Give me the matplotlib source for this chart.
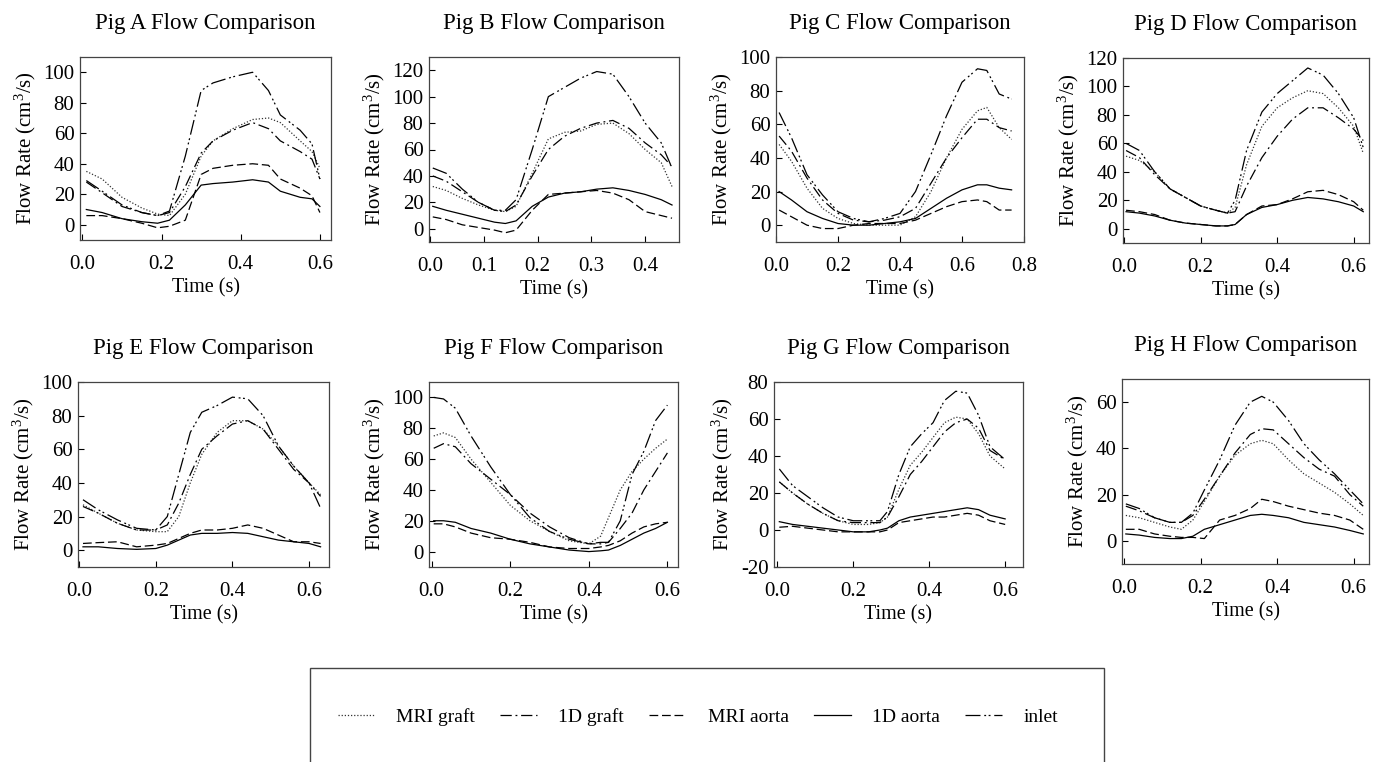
import matplotlib
matplotlib.use("Agg")
import matplotlib.pyplot as plt
from matplotlib.lines import Line2D
from matplotlib.patches import Rectangle
from matplotlib.ticker import FormatStrFormatter

plt.rcParams['font.family'] = ['Liberation Serif', 'DejaVu Serif']
plt.rcParams['mathtext.fontset'] = 'custom'
plt.rcParams['mathtext.rm'] = 'Liberation Serif'
plt.rcParams['mathtext.it'] = 'Liberation Serif:italic'
plt.rcParams['axes.unicode_minus'] = False

# ---- data (time in s, flow in cm^3/s) ----
t_A = [0.01, 0.05, 0.1, 0.15, 0.19, 0.22, 0.26, 0.3, 0.33, 0.38, 0.43, 0.47, 0.5, 0.55, 0.58, 0.6]
mri_graft_A = [35, 30, 18, 11, 7, 6, 20, 45, 55, 63, 69, 70, 67, 55, 48, 37]
oned_graft_A = [28, 21, 12, 8, 6, 8, 25, 47, 55, 62, 67, 63, 55, 48, 43, 30]
mri_aorta_A = [6, 6, 4, 1, -2, -1, 3, 33, 37, 39, 40, 39, 30, 24, 19, 8]
oned_aorta_A = [10, 8, 4, 2, 1, 3, 13, 26, 27, 28, 29.5, 28, 22, 18, 17, 12]
inlet_A = [29, 22, 13, 8, 6, 9, 45, 88, 93, 97, 100, 88, 72, 62, 53, 30]

t_B = [0.005, 0.03, 0.06, 0.09, 0.12, 0.14, 0.16, 0.19, 0.22, 0.25, 0.28, 0.31, 0.34, 0.37, 0.4, 0.43, 0.45]
mri_graft_B = [32, 29, 23, 18, 14, 13, 17, 42, 68, 73, 74, 79, 80, 72, 60, 50, 32]
oned_graft_B = [40, 36, 28, 20, 14, 13, 18, 40, 60, 70, 76, 80, 82, 76, 65, 56, 47]
mri_aorta_B = [9, 7, 3, 1, -1, -3, -1, 14, 26, 27, 28, 29, 27, 22, 13, 10, 8]
oned_aorta_B = [17, 14, 11, 8, 5, 4, 6, 17, 24, 27, 28, 30, 31, 29, 26, 22, 18]
inlet_B = [46, 42, 30, 20, 14, 14, 22, 60, 100, 107, 114, 119, 117, 100, 80, 65, 46]

t_C = [0.01, 0.05, 0.1, 0.15, 0.2, 0.25, 0.3, 0.35, 0.4, 0.45, 0.5, 0.55, 0.6, 0.65, 0.68, 0.72, 0.76]
mri_graft_C = [48, 38, 22, 10, 4, 1, 0, 0, 0, 5, 20, 40, 57, 68, 70, 58, 51]
oned_graft_C = [53, 44, 28, 15, 7, 3, 2, 3, 5, 10, 25, 40, 52, 63, 63, 58, 56]
mri_aorta_C = [9, 5, 0, -2, -2, 0, 1, 1, 1, 3, 7, 11, 14, 15, 14, 9, 9]
oned_aorta_C = [20, 15, 8, 4, 1, 0, 0, 1, 2, 4, 10, 16, 21, 24, 24, 22, 21]
inlet_C = [67, 52, 30, 18, 8, 4, 2, 4, 7, 20, 42, 65, 85, 93, 92, 78, 75]

t_D = [0.005, 0.04, 0.08, 0.12, 0.16, 0.2, 0.24, 0.27, 0.29, 0.32, 0.36, 0.4, 0.44, 0.48, 0.52, 0.56, 0.6, 0.625]
mri_graft_D = [51, 48, 40, 28, 22, 16, 13, 11, 15, 45, 72, 85, 92, 97, 95, 85, 72, 53]
oned_graft_D = [55, 50, 38, 28, 22, 16, 13, 11, 12, 30, 50, 65, 77, 85, 85, 78, 70, 62]
mri_aorta_D = [13, 12, 10, 6, 4, 3, 2, 2, 3, 10, 16, 17, 21, 26, 27, 24, 19, 13]
oned_aorta_D = [12, 11, 9, 6, 4, 3, 2, 2, 3, 10, 15, 17, 20, 22, 21, 19, 16, 12]
inlet_D = [60, 55, 40, 28, 22, 16, 13, 11, 20, 55, 82, 95, 104, 113, 108, 95, 78, 57]

t_E = [0.01, 0.05, 0.1, 0.15, 0.2, 0.23, 0.26, 0.29, 0.32, 0.36, 0.4, 0.44, 0.48, 0.52, 0.56, 0.6, 0.63]
mri_graft_E = [27, 22, 16, 12, 11, 11, 20, 40, 57, 70, 77, 77, 72, 62, 50, 40, 33]
oned_graft_E = [26, 22, 16, 12, 12, 15, 28, 45, 60, 68, 75, 77, 72, 60, 48, 40, 32]
mri_aorta_E = [4, 4.5, 5, 2, 3, 4, 7, 10, 12, 12, 13, 15, 13, 9, 5, 5, 4]
oned_aorta_E = [2, 2, 1, 0.5, 1, 3, 6, 9, 10, 10, 10.5, 10, 8, 6, 5, 4, 2]
inlet_E = [30, 24, 18, 13, 12, 20, 45, 70, 82, 86, 91, 90, 80, 62, 50, 40, 25]

t_F = [0.005, 0.03, 0.06, 0.1, 0.15, 0.2, 0.25, 0.3, 0.35, 0.4, 0.43, 0.45, 0.48, 0.51, 0.54, 0.57, 0.6]
mri_graft_F = [75, 77, 74, 60, 45, 30, 20, 13, 7, 5, 10, 22, 40, 52, 60, 67, 73]
oned_graft_F = [67, 70, 68, 57, 47, 37, 25, 16, 9, 5, 5, 6, 15, 25, 40, 52, 64]
mri_aorta_F = [18, 18, 16, 12, 9, 8, 6, 3, 2, 2, 3, 4, 7, 12, 16, 18, 19]
oned_aorta_F = [20, 20, 19, 15, 12, 8, 5, 3, 1, 0, 0.5, 1, 4, 8, 12, 15, 19]
inlet_F = [100, 99, 93, 75, 55, 37, 22, 13, 8, 5, 6, 6, 20, 50, 65, 85, 95]

t_G = [0.005, 0.04, 0.08, 0.12, 0.16, 0.2, 0.24, 0.27, 0.29, 0.32, 0.35, 0.38, 0.41, 0.44, 0.47, 0.5, 0.53, 0.56, 0.6]
mri_graft_G = [26, 20, 14, 9, 5, 3, 3, 4, 7, 22, 35, 42, 50, 58, 61, 60, 52, 40, 33]
oned_graft_G = [26, 20, 14, 9, 5, 4, 4, 4, 7, 18, 30, 37, 45, 53, 58, 60, 55, 43, 38]
mri_aorta_G = [1.5, 2, 1, 0, -1, -1, -1, -1, 0, 4, 5, 6, 7, 7, 8, 9, 8, 5, 3]
oned_aorta_G = [4.5, 3, 2, 1, 0, -1, -1, 0, 1, 5, 7, 8, 9, 10, 11, 12, 11, 8, 6]
inlet_G = [33, 24, 18, 12, 7, 5, 5, 5, 10, 30, 45, 52, 58, 70, 75, 74, 62, 45, 38]

t_H = [0.005, 0.04, 0.08, 0.12, 0.15, 0.18, 0.21, 0.25, 0.29, 0.33, 0.36, 0.39, 0.43, 0.47, 0.51, 0.55, 0.59, 0.625]
mri_graft_H = [11, 10, 8, 6, 5, 9, 17, 28, 37, 42, 43.5, 42, 35, 29, 25, 21, 16, 11]
oned_graft_H = [15, 13, 10, 8, 8, 11, 18, 28, 38, 46, 48.5, 48, 42, 36, 31, 28, 20, 15]
mri_aorta_H = [5, 5, 3, 2, 1.5, 1.5, 1, 9, 11, 14, 18, 17, 15, 13.5, 12, 11, 9, 5]
oned_aorta_H = [3, 2.5, 1.5, 1, 1, 2, 5, 7, 9, 11, 11.5, 11, 10, 8, 7, 6, 4.5, 3]
inlet_H = [16, 14, 10, 8, 8, 12, 22, 35, 50, 60, 62.5, 60, 52, 42, 35, 29, 22, 16]

pig_names = ['A', 'B', 'C', 'D', 'E', 'F', 'G', 'H']
series_labels = ['MRI graft', '1D graft', 'MRI aorta', '1D aorta', 'inlet']

panels = [
    (t_A, [mri_graft_A, oned_graft_A, mri_aorta_A, oned_aorta_A, inlet_A]),
    (t_B, [mri_graft_B, oned_graft_B, mri_aorta_B, oned_aorta_B, inlet_B]),
    (t_C, [mri_graft_C, oned_graft_C, mri_aorta_C, oned_aorta_C, inlet_C]),
    (t_D, [mri_graft_D, oned_graft_D, mri_aorta_D, oned_aorta_D, inlet_D]),
    (t_E, [mri_graft_E, oned_graft_E, mri_aorta_E, oned_aorta_E, inlet_E]),
    (t_F, [mri_graft_F, oned_graft_F, mri_aorta_F, oned_aorta_F, inlet_F]),
    (t_G, [mri_graft_G, oned_graft_G, mri_aorta_G, oned_aorta_G, inlet_G]),
    (t_H, [mri_graft_H, oned_graft_H, mri_aorta_H, oned_aorta_H, inlet_H]),
]

# axis ranges / ticks per pig
xlims = [(-0.006, 0.628), (-0.002, 0.463), (0.0, 0.795), (-0.003, 0.64),
         (-0.003, 0.652), (-0.007, 0.627), (-0.009, 0.647), (-0.005, 0.64)]
xticks = [[0, 0.2, 0.4, 0.6], [0, 0.1, 0.2, 0.3, 0.4], [0, 0.2, 0.4, 0.6, 0.8], [0, 0.2, 0.4, 0.6],
          [0, 0.2, 0.4, 0.6], [0, 0.2, 0.4, 0.6], [0, 0.2, 0.4, 0.6], [0, 0.2, 0.4, 0.6]]
ylims = [(-10, 110), (-10, 130), (-10, 100), (-10, 120),
         (-10, 100), (-10, 110), (-20, 80), (-10, 70)]
yticks = [range(0, 101, 20), range(0, 121, 20), range(0, 101, 20), range(0, 121, 20),
          range(0, 101, 20), range(0, 101, 20), range(-20, 81, 20), range(0, 61, 20)]

# pixel boxes of each axes: left, top, right, bottom
W, H = 1380, 762
boxes = [(80, 57, 331, 240), (429, 57, 679, 242), (776, 57, 1024, 242), (1123, 58, 1369, 243),
         (78, 382, 329, 567), (429, 382, 678, 567), (774, 382, 1023, 567), (1122, 379, 1369, 564)]

styles = [
    dict(linestyle=(0, (1, 1.5)), color='#333333', linewidth=0.9),
    dict(linestyle=(0, (9, 3, 1.5, 3)), color='black', linewidth=0.9),
    dict(linestyle=(0, (7, 3)), color='black', linewidth=0.9),
    dict(linestyle='-', color='black', linewidth=0.9),
    dict(linestyle=(0, (12, 3, 1.5, 2, 1.5, 3)), color='black', linewidth=0.9),
]

fig = plt.figure(figsize=(W / 100, H / 100), dpi=100)

for i, (t, series) in enumerate(panels):
    l, tp, r, b = boxes[i]
    ax = fig.add_axes([l / W, 1 - b / H, (r - l) / W, (b - tp) / H])
    for vals, st in zip(series, styles):
        ax.plot(t, vals, **st)
    ax.set_xlim(*xlims[i])
    ax.set_ylim(*ylims[i])
    ax.set_xticks(xticks[i])
    ax.set_yticks(list(yticks[i]))
    ax.xaxis.set_major_formatter(FormatStrFormatter('%.1f'))
    ax.tick_params(direction='in', length=4, width=0.8, labelsize=15)
    ax.tick_params(axis='x', pad=11)
    ax.tick_params(axis='y', pad=4)
    for sp in ax.spines.values():
        sp.set_linewidth(0.9)
        sp.set_color('#444444')
    ax.set_title(f'Pig {pig_names[i]} Flow Comparison', fontsize=16.5, pad=20)
    ax.set_xlabel('Time (s)', fontsize=14.5, labelpad=3)
    ax.set_ylabel('Flow Rate (cm$^3$/s)', fontsize=15, labelpad=4)

# legend in an open-bottom box under the grid
fig.patches.append(Rectangle((310 / W, -0.05), (1104 - 310) / W, (H - 668) / H + 0.05,
                             transform=fig.transFigure, fill=False, linewidth=1,
                             edgecolor='#444444', clip_on=False))
handles = [Line2D([], [], **st) for st in styles]
fig.legend(handles, series_labels, loc='center', bbox_to_anchor=(698 / W, 1 - 717 / H),
           ncol=5, frameon=False, fontsize=14, handlelength=1.9, handletextpad=1.1,
           columnspacing=1.3)

fig.savefig('out.png', dpi=100)
